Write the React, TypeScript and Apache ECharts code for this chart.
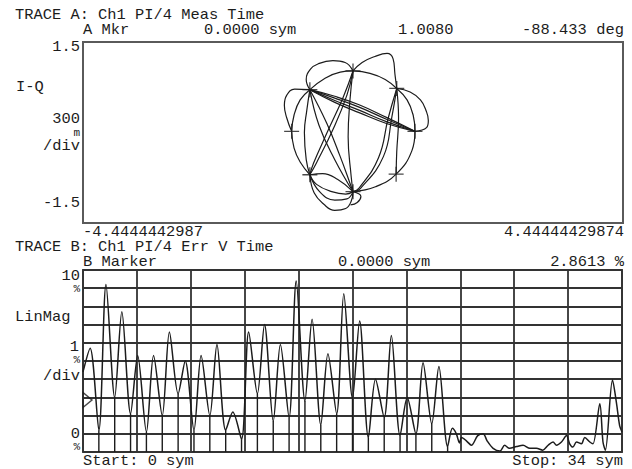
import { useEffect, useRef } from "react";
import * as echarts from "echarts";

// ---------- Text content ----------
const traceATitle = "TRACE A: Ch1 PI/4 Meas Time";
const traceAMarker = ["A Mkr", "0.0000 sym", "1.0080", "-88.433", "deg"];
const traceAYLabels = { top: "1.5", bottom: "-1.5", unit: "I-Q", perDiv: "300", perDivPrefix: "m", div: "/div" };
const traceAXLabels = ["-4.4444442987", "4.44444429874"];
const traceBTitle = "TRACE B: Ch1 PI/4 Err V Time";
const traceBMarker = ["B Marker", "0.0000 sym", "2.8613 %"];
const traceBYLabels = { top: "10", mid: "1", bottom: "0", pct: "%", unit: "LinMag", div: "/div" };
const traceBXLabels = ["Start: 0 sym", "Stop: 34 sym"];

// ---------- Trace A: I-Q constellation (I, Q) ----------
const iMin = -4.4444442987;
const iMax = 4.44444429874;
const qMin = -1.5;
const qMax = 1.5;

const symbolPoints: number[][] = [
  [0, 1.02], [0.72, 0.73], [-0.71, 0.71], [-1.01, 0.02],
  [1.02, 0.02], [-0.71, -0.70], [0.71, -0.69], [0, -0.98],
];

const trajUlTopOuter = [[-0.71, 0.71], [-0.77, 0.88], [-0.70, 1.05], [-0.57, 1.14], [-0.33, 1.19], [-0.13, 1.16], [0, 1.02]];
const trajTopUrOuter = [[0, 1.02], [0.15, 1.16], [0.36, 1.26], [0.56, 1.31], [0.66, 1.22], [0.69, 0.97], [0.72, 0.73]];
const trajTopUrArc = [[0, 1.02], [0.28, 0.98], [0.53, 0.88], [0.72, 0.73]];
const trajUlTopArc = [[-0.71, 0.71], [-0.46, 0.90], [-0.21, 1.0], [0, 1.02]];
const trajUrROuter = [[0.72, 0.73], [0.94, 0.67], [1.11, 0.54], [1.2, 0.37], [1.24, 0.2], [1.21, 0.08], [1.02, 0.02]];
const trajUrRArc = [[0.72, 0.73], [0.89, 0.54], [0.99, 0.29], [1.02, 0.02]];
const trajUlR1 = [[-0.71, 0.71], [-0.3, 0.6], [0.1, 0.46], [0.55, 0.25], [1.02, 0.02]];
const trajUlR2 = [[-0.71, 0.71], [-0.3, 0.57], [0.1, 0.42], [0.55, 0.22], [1.02, 0.02]];
const trajUlR3 = [[-0.71, 0.71], [-0.3, 0.53], [0.1, 0.37], [0.55, 0.18], [1.02, 0.02]];
const trajUlR4 = [[-0.71, 0.71], [-0.3, 0.5], [0.1, 0.33], [0.55, 0.15], [1.02, 0.02]];
const trajUlLOuter = [[-0.71, 0.71], [-0.96, 0.72], [-1.09, 0.62], [-1.13, 0.45], [-1.09, 0.24], [-1.01, 0.02]];
const trajUlLArc = [[-0.71, 0.71], [-0.87, 0.54], [-0.97, 0.29], [-1.01, 0.02]];
const trajLLlArc = [[-1.01, 0.02], [-0.97, -0.26], [-0.87, -0.49], [-0.71, -0.7]];
const trajUlLl = [[-0.71, 0.71], [-0.76, 0.37], [-0.8, 0.0], [-0.77, -0.45], [-0.71, -0.7]];
const trajUlB1 = [[-0.71, 0.71], [-0.43, 0.15], [-0.21, -0.4], [-0.05, -0.84], [0, -0.98]];
const trajUlB2 = [[-0.71, 0.71], [-0.56, 0.12], [-0.3, -0.45], [0, -0.98]];
const trajTopLl1 = [[0, 1.02], [-0.16, 0.59], [-0.43, -0.01], [-0.65, -0.51], [-0.71, -0.7]];
const trajTopLl2 = [[0, 1.02], [-0.1, 0.62], [-0.33, 0.05], [-0.6, -0.5], [-0.71, -0.7]];
const trajTopB = [[0, 1.02], [-0.05, 0.54], [-0.08, -0.07], [-0.03, -0.73], [0, -0.98]];
const trajUrB1 = [[0.72, 0.73], [0.64, 0.26], [0.5, -0.4], [0.12, -0.93], [0, -0.98]];
const trajUrB2 = [[0.72, 0.73], [0.58, 0.24], [0.42, -0.42], [0.1, -0.92], [0, -0.98]];
const trajUrLr = [[0.72, 0.73], [0.75, 0.24], [0.72, -0.32], [0.71, -0.69]];
const trajRLrB = [[1.02, 0.02], [0.97, -0.3], [0.71, -0.69], [0.37, -0.9], [0, -0.98]];
const trajLlBUpper = [[-0.71, -0.7], [-0.5, -0.68], [-0.25, -0.78], [0, -0.98]];
const trajLlBLower = [[-0.71, -0.7], [-0.64, -1.0], [-0.48, -1.19], [-0.3, -1.29], [-0.12, -1.26], [-0.03, -1.14], [0, -0.98]];
const trajLlBMid = [[-0.71, -0.7], [-0.55, -0.98], [-0.3, -1.12], [-0.1, -1.1], [0, -0.98]];
const trajLlBInner = [[-0.71, -0.7], [-0.6, -0.86], [-0.35, -0.98], [-0.12, -1.02], [0, -0.98]];
const trajBHook = [[0, -0.98], [0.13, -1.06], [0.07, -1.16], [-0.04, -1.2]];

const trajectories = [
  trajUlTopOuter, trajTopUrOuter, trajTopUrArc, trajUlTopArc, trajUrROuter, trajUrRArc,
  trajUlR1, trajUlR2, trajUlR3, trajUlR4, trajUlLOuter, trajUlLArc, trajLLlArc, trajUlLl,
  trajUlB1, trajUlB2, trajTopLl1, trajTopLl2, trajTopB, trajUrB1, trajUrB2, trajUrLr,
  trajRLrB, trajLlBUpper, trajLlBLower, trajLlBMid, trajLlBInner, trajBHook,
];

// ---------- Trace B: error vector magnitude (%) vs symbol ----------
const evmStartPct = 4.4;
// peak of each symbol interval (at about k + 0.45 sym)
const evmPeakPct = [5.7, 9.2, 7.7, 5.3, 5.3, 6.6, 5.0, 5.3, 5.9, 2.2, 6.6, 7.0, 5.9, 9.4, 7.3, 5.4, 8.7, 7.2, 4.0, 6.4, 3.0, 4.9, 4.7];
// value at the next symbol instant (k + 1), where the trace drops to zero
const evmValleyPct = [1.2, 3.0, 2.1, 1.1, 2.0, 3.2, 1.2, 2.0, 1.2, 0.7, 3.2, 1.7, 1.9, 2.8, 1.5, 2.1, 2.95, 0.8, 1.9, 0.9, 1.0, 1.55, 0.3];
const evmTailSym = [23.3, 23.55, 23.75, 23.88, 24.2, 24.5, 24.9, 25.24, 25.5, 25.87, 26.3, 26.6, 26.9, 27.35, 27.76, 28.19, 28.6, 29.0, 29.34, 29.65, 29.87, 30.18, 30.5, 30.7, 30.9, 31.13, 31.44, 31.65, 31.97, 32.17, 32.6, 32.8, 32.95, 33.4, 33.65, 33.85, 34];
const evmTailPct = [1.3, 1.0, 0.5, 0.8, 0.6, 0.37, 0.9, 1.0, 0.6, 0.2, 0.05, 0.37, 0.2, 0.3, 0.37, 0.2, 0.2, 0.1, 0.37, 0.55, 0.37, 0.55, 0.9, 0.45, 0.27, 0.55, 0.45, 0.8, 0.55, 0.45, 2.65, 0.55, 0.1, 3.95, 2.7, 1.45, 1.1];
const markerSym = 0;
const markerPct = 2.8613;

const INK = "#1c1c1c";
const FONT = '"Liberation Mono", "DejaVu Sans Mono", monospace';

function txt(x: number, y: number, text: string, align: "left" | "right" = "left", size = 14) {
  return {
    type: "text",
    x,
    y,
    scaleX: size >= 14 ? 1.1 : 1,
    silent: true,
    style: {
      text,
      x: 0,
      y: 0,
      fill: INK,
      font: `${size}px ${FONT}`,
      textAlign: align,
      textVerticalAlign: "middle",
      align,
      verticalAlign: "middle",
    },
  };
}

export default function App() {
  const ref = useRef<HTMLDivElement>(null);

  useEffect(() => {
    if (!ref.current) return;
    const chart = echarts.init(ref.current, undefined, { renderer: "svg" });

    const evmData: number[][] = [[0, evmStartPct]];
    evmPeakPct.forEach((p, k) => {
      evmData.push([k + 0.45, p]);
      evmData.push([k + 1, evmValleyPct[k]]);
    });
    evmTailSym.forEach((s, i) => evmData.push([s, evmTailPct[i]]));
    const spikeData = evmValleyPct.map((v, k) => [k + 1, v]);

    const trajSeries = trajectories.map((t) => ({
      type: "line",
      xAxisIndex: 0,
      yAxisIndex: 0,
      data: t,
      smooth: 0.45,
      showSymbol: false,
      symbol: "none",
      lineStyle: { color: INK, width: 1.2 },
      silent: true,
      z: 3,
    }));

    const option: any = {
      animation: false,
      backgroundColor: "#ffffff",
      grid: [
        { left: 83, top: 42, width: 540, height: 181, show: true, borderColor: "#5a5a5a", borderWidth: 2, backgroundColor: "transparent" },
        { left: 83, top: 270, width: 539, height: 182, show: true, borderColor: "#333333", borderWidth: 1.8, backgroundColor: "transparent" },
      ],
      xAxis: [
        {
          type: "value", gridIndex: 0, min: iMin, max: iMax,
          axisLine: { show: false }, axisTick: { show: false }, axisLabel: { show: false }, splitLine: { show: false },
        },
        {
          type: "value", gridIndex: 1, min: 0, max: 34, interval: 3.4,
          axisLine: { show: false }, axisTick: { show: false }, axisLabel: { show: false },
          splitLine: { show: true, lineStyle: { color: "#333333", width: 1.8 } },
        },
      ],
      yAxis: [
        {
          type: "value", gridIndex: 0, min: qMin, max: qMax,
          axisLine: { show: false }, axisTick: { show: false }, axisLabel: { show: false }, splitLine: { show: false },
        },
        {
          type: "value", gridIndex: 1, min: 0, max: 10, interval: 1,
          axisLine: { show: false }, axisTick: { show: false }, axisLabel: { show: false },
          splitLine: { show: true, lineStyle: { color: "#333333", width: 1.8 } },
        },
      ],
      series: [
        ...trajSeries,
        {
          type: "scatter",
          xAxisIndex: 0,
          yAxisIndex: 0,
          data: symbolPoints,
          symbol: "path://M0,6.4H14V7.6H0Z M6.4,0H7.6V14H6.4Z",
          symbolSize: 15,
          itemStyle: { color: INK },
          silent: true,
          z: 4,
        },
        {
          type: "bar",
          xAxisIndex: 1,
          yAxisIndex: 1,
          data: spikeData,
          barWidth: 1.4,
          itemStyle: { color: INK },
          silent: true,
          z: 3,
        },
        {
          type: "line",
          xAxisIndex: 1,
          yAxisIndex: 1,
          data: evmData,
          smooth: 0.3,
          showSymbol: false,
          symbol: "none",
          lineStyle: { color: INK, width: 1.5 },
          silent: true,
          z: 3,
        },
        {
          type: "scatter",
          xAxisIndex: 1,
          yAxisIndex: 1,
          data: [[markerSym, markerPct]],
          symbol: "path://M0,0L10,6L0,12Z",
          symbolSize: [9, 15],
          symbolOffset: [4.5, 0],
          itemStyle: { color: "rgba(255,255,255,0)", borderColor: INK, borderWidth: 1.3 },
          silent: true,
          z: 4,
        },
      ],
      graphic: [
        txt(15, 15, traceATitle),
        txt(83, 30, traceAMarker[0]),
        txt(204, 30, traceAMarker[1]),
        txt(398, 30, traceAMarker[2]),
        txt(522, 30, traceAMarker[3]),
        txt(624, 30, traceAMarker[4], "right"),
        txt(80, 47, traceAYLabels.top, "right"),
        txt(16, 87, traceAYLabels.unit),
        txt(80, 119, traceAYLabels.perDiv, "right"),
        txt(80, 132.5, traceAYLabels.perDivPrefix, "right", 11),
        txt(80, 146, traceAYLabels.div, "right"),
        txt(80, 203, traceAYLabels.bottom, "right"),
        txt(83, 232.5, traceAXLabels[0]),
        txt(624, 232.5, traceAXLabels[1], "right"),
        txt(15, 247.5, traceBTitle),
        txt(83, 262, traceBMarker[0]),
        txt(338, 262, traceBMarker[1]),
        txt(624, 262, traceBMarker[2], "right"),
        txt(80, 276, traceBYLabels.top, "right"),
        txt(80, 288.5, traceBYLabels.pct, "right", 11),
        txt(15, 317, traceBYLabels.unit),
        txt(79, 347, traceBYLabels.mid, "right"),
        txt(80, 359.5, traceBYLabels.pct, "right", 11),
        txt(80, 376, traceBYLabels.div, "right"),
        txt(80, 434, traceBYLabels.bottom, "right"),
        txt(80, 446.5, traceBYLabels.pct, "right", 11),
        txt(83, 461, traceBXLabels[0]),
        txt(623, 461, traceBXLabels[1], "right"),
      ],
    };

    chart.setOption(option);
    return () => chart.dispose();
  }, []);

  return (
    <div
      ref={ref}
      style={{ position: "fixed", left: 0, top: 0, width: 632, height: 469, background: "#fff" }}
    />
  );
}
